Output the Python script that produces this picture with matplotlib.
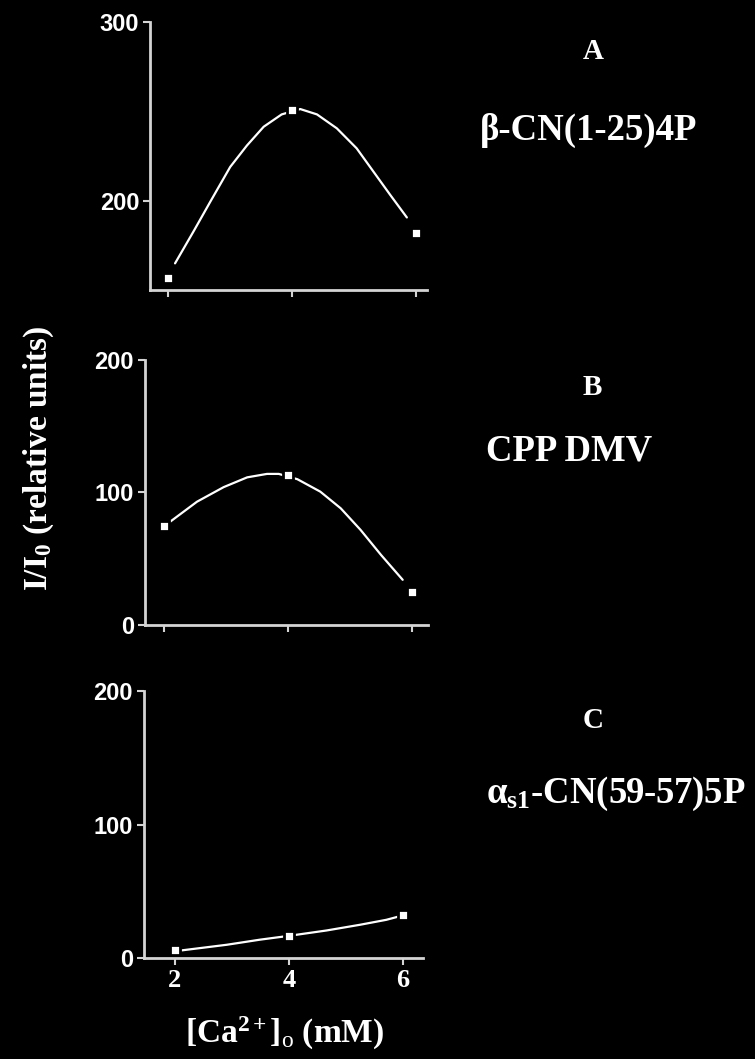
import matplotlib
matplotlib.use('Agg')
from matplotlib import pyplot as plt

plt.rcParams['mathtext.fontset'] = 'custom'
plt.rcParams['mathtext.rm'] = 'Liberation Serif'
plt.rcParams['mathtext.bf'] = 'Liberation Serif:bold'
plt.rcParams['mathtext.it'] = 'Liberation Serif:italic'

# measured points [Ca2+]o (mM) vs I/I0
ca = [2, 4, 6]
a_vals = [157, 251, 182]
b_vals = [75, 113, 25]
c_vals = [5.7, 16.7, 32]

# fitted curves
a_curve_x = [2.11, 2.41, 2.68, 3.00, 3.27, 3.54, 3.83, 4.13, 4.40, 4.72, 5.04, 5.31, 5.58, 5.85]
a_curve_y = [165, 183, 199.6, 219, 231, 241.5, 248.4, 251.4, 248.4, 240.6, 229.4, 216.4, 203.4, 190.7]
b_curve_x = [2.10, 2.53, 2.96, 3.34, 3.66, 3.85, 4.15, 4.52, 4.85, 5.17, 5.50, 5.85]
b_curve_y = [78, 93, 104, 111.4, 114, 114, 110, 100.6, 88, 71.7, 52.8, 34]
c_curve_x = [2.12, 2.91, 3.49, 4.02, 4.66, 5.25, 5.71, 6.00]
c_curve_y = [5.7, 9.9, 13.7, 16.7, 20.6, 24.9, 28.6, 31.9]

panels = [
    ('A', 'β-CN(1-25)4P', a_vals, a_curve_x, a_curve_y, (150, 300), [200, 300], (1.71, 6.18)),
    ('B', 'CPP DMV', b_vals, b_curve_x, b_curve_y, (0, 200), [0, 100, 200], (1.69, 6.26)),
    ('C', r'α$_{\mathbf{s1}}$-CN(59-57)5P', c_vals, c_curve_x, c_curve_y, (0, 200), [0, 100, 200], (1.46, 6.35)),
]
boxes = [
    [0.199, 0.726, 0.367, 0.253],
    [0.192, 0.410, 0.375, 0.250],
    [0.191, 0.0954, 0.369, 0.252],
]
letter_pos = [(0.786, 0.9443), (0.784, 0.627), (0.785, 0.3126)]
name_pos = [(0.779, 0.8678), (0.754, 0.5656), (0.815, 0.2417)]

spine_col = '#d4d4d4'
fig = plt.figure(figsize=(7.55, 10.59), dpi=100, facecolor='black')

for i, (letter, name, vals, cx, cy, ylim, yticks, xlim) in enumerate(panels):
    ax = fig.add_axes(boxes[i])
    ax.set_facecolor('black')
    ax.plot(cx, cy, color='white', lw=1.6, solid_capstyle='round')
    ax.plot(ca, vals, 's', color='white', ms=6.5, mec='black', mew=2)
    ax.set_ylim(*ylim)
    ax.set_xlim(*xlim)
    ax.set_yticks(yticks)
    ax.set_xticks(ca)
    for s in ['top', 'right']:
        ax.spines[s].set_visible(False)
    for s in ['left', 'bottom']:
        ax.spines[s].set_color(spine_col)
        ax.spines[s].set_linewidth(2)
    ax.tick_params(colors=spine_col, width=1.5, length=5, pad=3)
    for lab in ax.get_yticklabels():
        lab.set_fontfamily('Liberation Sans')
        lab.set_fontweight('bold')
        lab.set_fontsize(17)
        lab.set_color('white')
    if i < 2:
        ax.set_xticklabels([])
    else:
        ax.set_xticklabels(['2', '4', '6'], fontfamily='Liberation Serif',
                           fontweight='bold', fontsize=19, color='white')
        ax.tick_params(axis='x', pad=3)
    fig.text(letter_pos[i][0], letter_pos[i][1], letter, color='white',
             fontfamily='Liberation Serif', fontweight='bold', fontsize=21,
             ha='center', va='baseline')
    fig.text(name_pos[i][0], name_pos[i][1], name, color='white',
             fontfamily='Liberation Serif', fontweight='bold', fontsize=26.5,
             ha='center', va='baseline')

fig.text(0.052, 0.567, r'I/I$_\mathbf{0}$ (relative units)', color='white',
         fontfamily='Liberation Serif', fontweight='bold', fontsize=24,
         rotation=90, ha='center', va='center')
fig.text(0.377, 0.024, r'[Ca$^{\mathbf{2+}}$]$_\mathrm{o}$ (mM)', color='white',
         fontfamily='Liberation Serif', fontweight='bold', fontsize=24,
         ha='center', va='center')

fig.savefig('out.png', dpi=100, facecolor='black')
